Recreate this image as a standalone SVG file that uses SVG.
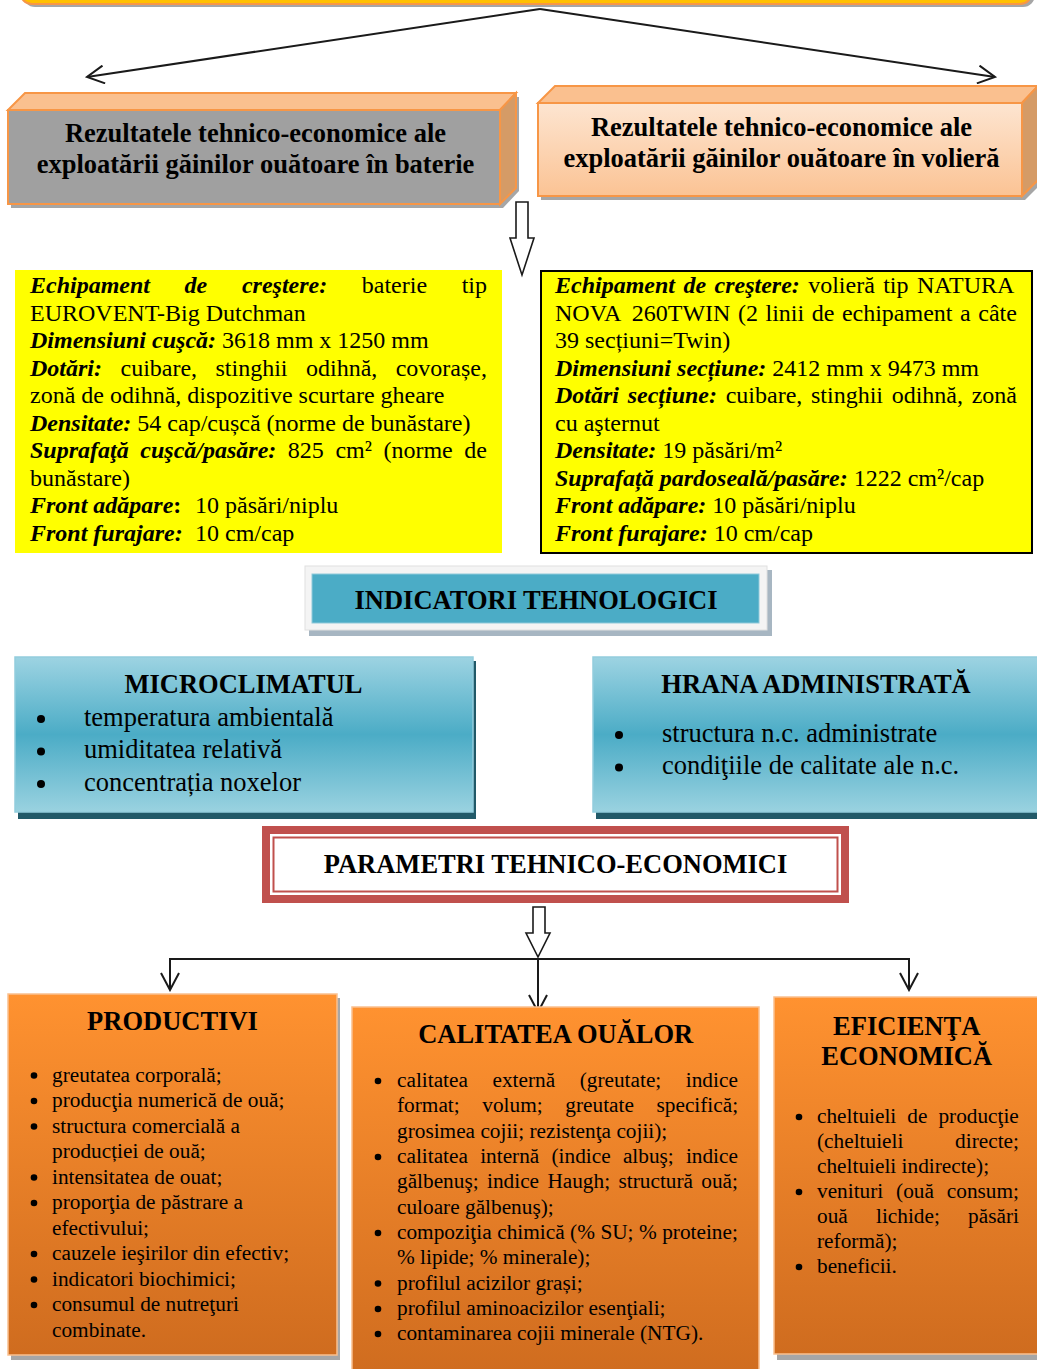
<svg xmlns="http://www.w3.org/2000/svg" width="1037" height="1369" viewBox="0 0 1037 1369">
<defs>
<style>
.t{font-family:"Liberation Serif","Times New Roman",serif;fill:#000}
.b{font-weight:bold}
.bi{font-weight:bold;font-style:italic}
.s26{font-size:26.5px}
.s24{font-size:24px}
.s21{font-size:21.3px}
.c{text-anchor:middle}
.ln{stroke:#1a1a1a;stroke-width:2;fill:none}
.blk{fill:#fff;stroke:#1a1a1a;stroke-width:1.6}
.sh{fill:#a6a6a6}
.obox{fill:url(#og);stroke:#fac08f;stroke-width:1.5}
.tbox{fill:url(#tg);stroke:#93cddd;stroke-width:1.5}
</style>
<linearGradient id="og" x1="0" y1="0" x2="0" y2="1">
<stop offset="0" stop-color="#ff9230"/>
<stop offset="1" stop-color="#cf6c1f"/>
</linearGradient>
<linearGradient id="tg" x1="0" y1="0" x2="0" y2="1">
<stop offset="0" stop-color="#9dd3e2"/>
<stop offset="0.5" stop-color="#4bacc6"/>
<stop offset="1" stop-color="#9ad2e0"/>
</linearGradient>
<linearGradient id="pg" x1="0" y1="0" x2="0" y2="1">
<stop offset="0" stop-color="#fde5d1"/>
<stop offset="1" stop-color="#fbc394"/>
</linearGradient>
<marker id="ah" viewBox="0 0 20 20" refX="18" refY="10" markerWidth="20" markerHeight="20" markerUnits="userSpaceOnUse" orient="auto">
<path d="M1,1 L18,10 L1,19" fill="none" stroke="#1a1a1a" stroke-width="2"/>
</marker>
</defs>
<rect width="1037" height="1369" fill="#fff"/>

<g id="top-bar">
<rect x="23" y="-40" width="1012" height="47" rx="12" class="sh"/>
<rect x="20" y="-40" width="1012" height="44" rx="12" fill="#ffc000" stroke="#f79646" stroke-width="2"/>
</g>

<g id="connectors">
<line x1="540" y1="9" x2="87" y2="77" class="ln" marker-end="url(#ah)"/>
<line x1="540" y1="9" x2="995" y2="77" class="ln" marker-end="url(#ah)"/>
<polygon class="blk" points="516,202 528,202 528,238 534,238 522,275 510,238 516,238"/>
<polygon class="blk" points="533,907 545,907 545,933 550,933 538,957 526,933 533,933"/>
<line x1="169" y1="959" x2="910" y2="959" class="ln"/>
<line x1="170" y1="959" x2="170" y2="990" class="ln" marker-end="url(#ah)"/>
<line x1="909" y1="959" x2="909" y2="990" class="ln" marker-end="url(#ah)"/>
<line x1="538" y1="959" x2="538" y2="1012" class="ln" marker-end="url(#ah)"/>
</g>

<g id="box-baterie">
<polygon class="sh" points="11,114 28,97 519,97 519,191 503,208 11,208"/>
<rect x="8" y="110" width="492" height="94" fill="#a0a0a0" stroke="#f79646" stroke-width="2"/>
<polygon points="8,110 25,93 516,93 500,110" fill="#fac08f" stroke="#f79646" stroke-width="2"/>
<polygon points="500,110 516,93 516,188 500,204" fill="#d59b66" stroke="#f79646" stroke-width="2"/>
<text class="t b s26 c" x="255.5" y="142">Rezultatele tehnico-economice ale</text>
<text class="t b s26 c" x="255.5" y="173">exploatării găinilor ouătoare în baterie</text>
</g>

<g id="box-voliera">
<polygon class="sh" points="541,107 558,90 1041,90 1041,184 1025,200 541,200"/>
<rect x="538" y="103" width="484" height="93" fill="url(#pg)" stroke="#f79646" stroke-width="2"/>
<polygon points="538,103 555,86 1038,86 1022,103" fill="#fac08f" stroke="#f79646" stroke-width="2"/>
<polygon points="1022,103 1038,86 1038,180 1022,196" fill="#d59b66" stroke="#f79646" stroke-width="2"/>
<text class="t b s26 c" x="781.5" y="136">Rezultatele tehnico-economice ale</text>
<text class="t b s26 c" x="781.5" y="167">exploatării găinilor ouătoare în volieră</text>
</g>

<g id="yellow-baterie">
<rect x="15" y="270" width="487" height="283" fill="#ffff00"/>
<text class="t s24" y="293"><tspan class="bi" x="30">Echipament</tspan><tspan class="bi" x="184.6">de</tspan><tspan class="bi" x="241.9">creştere:</tspan><tspan x="361.8">baterie</tspan><tspan x="461.7">tip</tspan></text>
<text class="t s24" x="30" y="320.5">EUROVENT-Big Dutchman</text>
<text class="t s24" x="30" y="348"><tspan class="bi">Dimensiuni cuşcă:</tspan> 3618 mm x 1250 mm</text>
<text class="t s24" y="375.5"><tspan class="bi" x="30">Dotări:</tspan><tspan x="120.5">cuibare,</tspan><tspan x="215.5">stinghii</tspan><tspan x="306">odihnă,</tspan><tspan x="395.7">covorașe,</tspan></text>
<text class="t s24" x="30" y="403">zonă de odihnă, dispozitive scurtare gheare</text>
<text class="t s24" x="30" y="430.5"><tspan class="bi">Densitate:</tspan> 54 cap/cușcă (norme de bunăstare)</text>
<text class="t s24" y="458"><tspan class="bi" x="30">Suprafaţă</tspan><tspan class="bi" x="140.3">cuşcă/pasăre:</tspan><tspan x="287.8">825</tspan><tspan x="335.4">cm²</tspan><tspan x="383.4">(norme</tspan><tspan x="464.3">de</tspan></text>
<text class="t s24" x="30" y="485.5">bunăstare)</text>
<text class="t s24" y="513"><tspan class="bi" x="30">Front adăpare</tspan><tspan class="b">:</tspan><tspan x="195">10 păsări/niplu</tspan></text>
<text class="t s24" y="540.5"><tspan class="bi" x="30">Front furajare:</tspan><tspan x="195">10 cm/cap</tspan></text>
</g>

<g id="yellow-voliera">
<rect x="541" y="271" width="491" height="282" fill="#ffff00" stroke="#000" stroke-width="2"/>
<text class="t s24" y="293"><tspan class="bi" x="555">Echipament</tspan><tspan class="bi" x="683.4">de</tspan><tspan class="bi" x="714.5">creştere:</tspan><tspan x="808.2">volieră</tspan><tspan x="883.2">tip</tspan><tspan x="917">NATURA</tspan></text>
<text class="t s24" y="320.5"><tspan x="555">NOVA</tspan><tspan x="631.8">260TWIN</tspan><tspan x="737.9">(2</tspan><tspan x="765.5">linii</tspan><tspan x="811.7">de</tspan><tspan x="841.9">echipament</tspan><tspan x="960">a</tspan><tspan x="978.3">câte</tspan></text>
<text class="t s24" x="555" y="348">39 secțiuni=Twin)</text>
<text class="t s24" x="555" y="375.5"><tspan class="bi">Dimensiuni secțiune:</tspan> 2412 mm x 9473 mm</text>
<text class="t s24" y="403"><tspan class="bi" x="555">Dotări</tspan><tspan class="bi" x="627.7">secțiune:</tspan><tspan x="725.7">cuibare,</tspan><tspan x="811">stinghii</tspan><tspan x="891.7">odihnă,</tspan><tspan x="971.7">zonă</tspan></text>
<text class="t s24" x="555" y="430.5">cu aşternut</text>
<text class="t s24" x="555" y="458"><tspan class="bi">Densitate:</tspan> 19 păsări/m²</text>
<text class="t s24" x="555" y="485.5"><tspan class="bi">Suprafață pardoseală/pasăre:</tspan> 1222 cm²/cap</text>
<text class="t s24" x="555" y="513"><tspan class="bi">Front adăpare:</tspan> 10 păsări/niplu</text>
<text class="t s24" x="555" y="540.5"><tspan class="bi">Front furajare:</tspan> 10 cm/cap</text>
</g>

<g id="indicatori">
<rect x="309" y="570" width="463" height="66" fill="#a7b6c2"/>
<rect x="305" y="566" width="462" height="64" fill="#f4f4f4" stroke="#e0e0e0" stroke-width="1"/>
<rect x="312" y="574" width="447" height="49" fill="#4bacc6" stroke="#8fc9da" stroke-width="1"/>
<text class="t b s26 c" x="536" y="609">INDICATORI TEHNOLOGICI</text>
</g>

<g id="microclimatul">
<rect x="18" y="661" width="458" height="158" fill="#215968"/>
<rect x="15" y="657" width="458" height="155" class="tbox"/>
<text class="t b s26 c" x="243.5" y="693">MICROCLIMATUL</text>
<circle cx="41" cy="719" r="4"/>
<circle cx="41" cy="751.5" r="4"/>
<circle cx="41" cy="784" r="4"/>
<text class="t s26" x="84" y="725.5">temperatura ambientală</text>
<text class="t s26" x="84" y="758">umiditatea relativă</text>
<text class="t s26" x="84" y="790.5">concentrația noxelor</text>
</g>

<g id="hrana">
<rect x="596" y="661" width="450" height="158" fill="#215968"/>
<rect x="593" y="657" width="450" height="155" class="tbox"/>
<text class="t b s26 c" x="816" y="693">HRANA ADMINISTRATĂ</text>
<circle cx="619" cy="735" r="4"/>
<circle cx="619" cy="767.5" r="4"/>
<text class="t s26" x="662" y="741.5">structura n.c. administrate</text>
<text class="t s26" x="662" y="774">condiţiile de calitate ale n.c.</text>
</g>

<g id="parametri">
<rect x="262" y="826" width="587" height="77" fill="#c0504d"/>
<rect x="270" y="834" width="571" height="61" fill="#fff"/>
<rect x="273.5" y="837.5" width="564" height="54" fill="#fff" stroke="#c0504d" stroke-width="2"/>
<text class="t b s26 c" x="555.5" y="873">PARAMETRI TEHNICO-ECONOMICI</text>
</g>

<g id="productivi">
<rect x="11" y="998" width="329" height="362" class="sh"/>
<rect x="8" y="994" width="329" height="361" class="obox"/>
<text class="t b s26 c" x="172.5" y="1030">PRODUCTIVI</text>
<g class="t s21">
<circle cx="34" cy="1075.5" r="3.3"/>
<circle cx="34" cy="1101" r="3.3"/>
<circle cx="34" cy="1126.5" r="3.3"/>
<circle cx="34" cy="1177.5" r="3.3"/>
<circle cx="34" cy="1203" r="3.3"/>
<circle cx="34" cy="1254" r="3.3"/>
<circle cx="34" cy="1279.5" r="3.3"/>
<circle cx="34" cy="1305" r="3.3"/>
<text x="52" y="1081.5">greutatea corporală;</text>
<text x="52" y="1107">producţia numerică de ouă;</text>
<text x="52" y="1132.5">structura comercială a</text>
<text x="52" y="1158">producției de ouă;</text>
<text x="52" y="1183.5">intensitatea de ouat;</text>
<text x="52" y="1209">proporţia de păstrare a</text>
<text x="52" y="1234.5">efectivului;</text>
<text x="52" y="1260">cauzele ieşirilor din efectiv;</text>
<text x="52" y="1285.5">indicatori biochimici;</text>
<text x="52" y="1311">consumul de nutreţuri</text>
<text x="52" y="1336.5">combinate.</text>
</g>
</g>

<g id="calitatea">
<rect x="352" y="1007" width="407" height="370" class="obox"/>
<text class="t b s26 c" x="555.7" y="1043">CALITATEA OUĂLOR</text>
<g class="t s21">
<circle cx="378" cy="1081" r="3.3"/>
<circle cx="378" cy="1157" r="3.3"/>
<circle cx="378" cy="1233" r="3.3"/>
<circle cx="378" cy="1283.5" r="3.3"/>
<circle cx="378" cy="1309" r="3.3"/>
<circle cx="378" cy="1334" r="3.3"/>
<text y="1087"><tspan x="397">calitatea</tspan><tspan x="492.5">externă</tspan><tspan x="579.7">(greutate;</tspan><tspan x="685.8">indice</tspan></text>
<text y="1112.3"><tspan x="397">format;</tspan><tspan x="482.3">volum;</tspan><tspan x="565.3">greutate</tspan><tspan x="656.5">specifică;</tspan></text>
<text x="397" y="1137.6">grosimea cojii; rezistenţa cojii);</text>
<text y="1163"><tspan x="397">calitatea</tspan><tspan x="480.2">internă</tspan><tspan x="551.5">(indice</tspan><tspan x="622.9">albuş;</tspan><tspan x="685.9">indice</tspan></text>
<text y="1188.2"><tspan x="397">gălbenuş;</tspan><tspan x="487">indice</tspan><tspan x="547.4">Haugh;</tspan><tspan x="618.5">structură</tspan><tspan x="701.3">ouă;</tspan></text>
<text x="397" y="1213.5">culoare gălbenuş);</text>
<text y="1239"><tspan x="397">compoziţia</tspan><tspan x="497.2">chimică</tspan><tspan x="570.1">(%</tspan><tspan x="600.4">SU;</tspan><tspan x="639">%</tspan><tspan x="662.2">proteine;</tspan></text>
<text x="397" y="1264">% lipide; % minerale);</text>
<text x="397" y="1289.5">profilul acizilor grași;</text>
<text x="397" y="1315">profilul aminoacizilor esenţiali;</text>
<text x="397" y="1340">contaminarea cojii minerale (NTG).</text>
</g>
</g>

<g id="eficienta">
<rect x="777" y="1001" width="266" height="359" class="sh"/>
<rect x="774" y="997" width="266" height="357" class="obox"/>
<text class="t b s26 c" x="906.7" y="1035">EFICIENŢA</text>
<text class="t b s26 c" x="906.7" y="1065">ECONOMICĂ</text>
<g class="t s21">
<circle cx="799" cy="1117" r="3.3"/>
<circle cx="799" cy="1192" r="3.3"/>
<circle cx="799" cy="1267" r="3.3"/>
<text y="1123"><tspan x="817">cheltuieli</tspan><tspan x="907.3">de</tspan><tspan x="938.4">producţie</tspan></text>
<text y="1148"><tspan x="817">(cheltuieli</tspan><tspan x="955.1">directe;</tspan></text>
<text x="817" y="1173">cheltuieli indirecte);</text>
<text y="1198"><tspan x="817">venituri</tspan><tspan x="896.1">(ouă</tspan><tspan x="946.8">consum;</tspan></text>
<text y="1223"><tspan x="817">ouă</tspan><tspan x="876">lichide;</tspan><tspan x="968.1">păsări</tspan></text>
<text x="817" y="1248">reformă);</text>
<text x="817" y="1273">beneficii.</text>
</g>
</g>
</svg>
